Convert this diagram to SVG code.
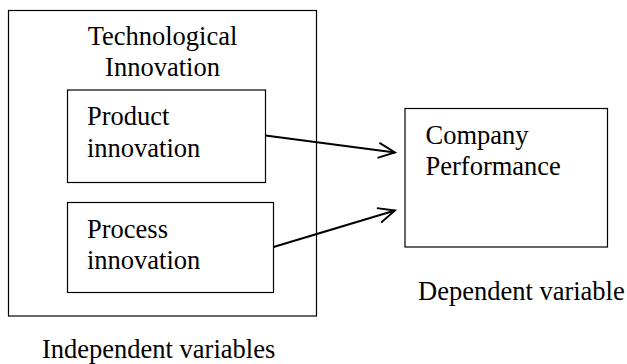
<svg xmlns="http://www.w3.org/2000/svg" width="627" height="364" viewBox="0 0 627 364">
<style>
.box{fill:#fff;stroke:#000;stroke-width:1.2}
.c{stroke:#000;stroke-width:2.2;fill:none}
</style>
<defs>
<marker id="ah" viewBox="0 0 12 12" refX="11" refY="6" markerWidth="10" markerHeight="10" markerUnits="userSpaceOnUse" orient="auto" overflow="visible">
<path d="M-9,-3 L11,6 L-9,15" fill="none" stroke="#000" stroke-width="2.2"/>
</marker>
</defs>
<rect width="627" height="364" fill="#fff"/>
<g font-family="'Liberation Serif', 'Times New Roman', serif" font-size="26.5" fill="#000">
<g id="tech">
<rect class="box" x="8.5" y="10.5" width="308" height="305.5"/>
<text x="162.5" y="45" text-anchor="middle">Technological</text>
<text x="162.5" y="76" text-anchor="middle">Innovation</text>
</g>
<g id="product">
<rect class="box" x="67.5" y="90" width="198" height="92.5"/>
<text x="87" y="125">Product</text>
<text x="87" y="156.5">innovation</text>
</g>
<g id="process">
<rect class="box" x="67.5" y="202.5" width="206" height="90"/>
<text x="87" y="237.5">Process</text>
<text x="87" y="268.5">innovation</text>
</g>
<g id="company">
<rect class="box" x="405" y="108.5" width="202.5" height="138.5"/>
<text x="425.5" y="143.5">Company</text>
<text x="425.5" y="174.5">Performance</text>
</g>
<g id="labels">
<text x="42" y="358">Independent variables</text>
<text x="418" y="299.5">Dependent variable</text>
</g>
</g>
<g id="connectors">
<line class="c" x1="265.5" y1="135.5" x2="395" y2="152.5" marker-end="url(#ah)"/>
<line class="c" x1="273.5" y1="247" x2="395" y2="210.5" marker-end="url(#ah)"/>
</g>
</svg>
